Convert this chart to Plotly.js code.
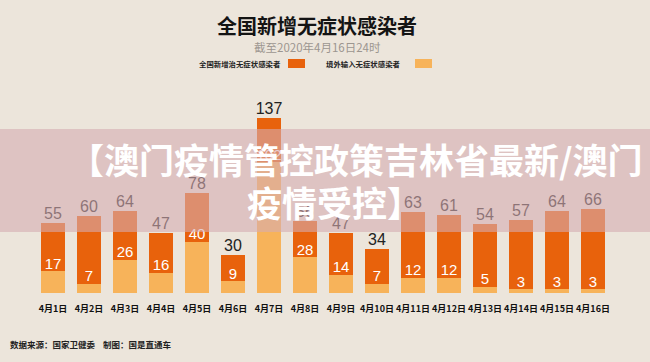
<!DOCTYPE html>
<html>
<head>
<meta charset="utf-8">
<script src="https://cdn.plot.ly/plotly-3.0.1.min.js"></script>
<style>html,body{margin:0;padding:0;background:#ece5db;}#chart{width:650px;height:362px;}</style>
</head>
<body>
<div id="chart"></div>
<script>
// ---- data ----
const dates = ["4月1日","4月2日","4月3日","4月4日","4月5日","4月6日","4月7日","4月8日",
               "4月9日","4月10日","4月11日","4月12日","4月13日","4月14日","4月15日","4月16日"];
const totalNew = [55, 60, 64, 47, 78, 30, 137, 56, 47, 34, 63, 61, 54, 57, 64, 66];
const imported = [17, 7, 26, 16, 40, 9, 102, 28, 14, 7, 12, 12, 5, 3, 3, 3];
const seriesNames = ["全国新增治无症状感染者", "境外输入无症状感染者"];

const domestic = totalNew.map((t, i) => t - imported[i]);

const DARK = "#e8620c", LIGHT = "#f7b35a", BG = "#ece5db";
const L = 23, R = 27, T = 101, B = 69, W = 650 - L - R, H = 362 - T - B;
const px = x => (x - L) / W;
const py = y => (362 - B - y) / H;

const cjk = '"Noto Sans CJK SC", "Noto Sans", sans-serif';
const num = '"Liberation Sans", Arial, sans-serif';

const traces = [
  { type: "bar", x: dates, y: imported, name: seriesNames[1], marker: { color: LIGHT },
    hoverinfo: "skip" },
  { type: "bar", x: dates, y: domestic, name: seriesNames[0], marker: { color: DARK },
    hoverinfo: "skip" },
  // imported-count labels, drawn on an overlay axis shifted a few pixels up
  { type: "scatter", mode: "text", x: dates, y: imported, yaxis: "y2", text: imported.map(String),
    textposition: "middle center", textfont: { family: num, size: 15, color: "#ffffff" },
    hoverinfo: "skip", cliponaxis: false },
  { type: "scatter", mode: "text", x: dates, y: totalNew, text: totalNew.map(String),
    textposition: "top center", textfont: { family: num, size: 16, color: "#222222" },
    hoverinfo: "skip", cliponaxis: false }
];

const annotations = [
  { text: "<b>全国新增无症状感染者</b>", x: px(317), y: py(25), font: { family: cjk, size: 20, color: "#141414" } },
  { text: "截至2020年4月16日24时", x: px(317), y: py(47), font: { family: cjk, size: 11.5, color: "#9c9690" } },
  { text: "<b>" + seriesNames[0] + "</b>", x: px(283), y: py(63.5), xanchor: "right", font: { family: cjk, size: 7.4, color: "#222" } },
  { text: "<b>" + seriesNames[1] + "</b>", x: px(403), y: py(63.5), xanchor: "right", font: { family: cjk, size: 7.4, color: "#222" } },
  { text: "<b>数据来源：国家卫健委</b>", x: px(8), y: py(344), xanchor: "left", font: { family: cjk, size: 8.5, color: "#222" } },
  { text: "<b>制图：国是直通车</b>", x: px(101), y: py(344), xanchor: "left", font: { family: cjk, size: 8.5, color: "#222" } },
  { text: "<b>【澳门疫情管控政策吉林省最新/澳门</b>", x: px(356), y: py(158), font: { family: cjk, size: 35, color: "#ffffff" } },
  { text: "<b>疫情受控】</b>", x: px(334), y: py(201), font: { family: cjk, size: 35, color: "#ffffff" } }
].map(a => Object.assign({ xref: "paper", yref: "paper", showarrow: false, xanchor: "center", yanchor: "middle" }, a));

const shapes = [
  { type: "rect", xref: "paper", yref: "paper", x0: px(288), x1: px(305), y0: py(59), y1: py(68),
    fillcolor: DARK, line: { width: 0 } },
  { type: "rect", xref: "paper", yref: "paper", x0: px(415), x1: px(432), y0: py(59), y1: py(68),
    fillcolor: LIGHT, line: { width: 0 } },
  { type: "rect", xref: "paper", yref: "paper", x0: px(0), x1: px(650), y0: py(232), y1: py(129),
    fillcolor: "rgba(214,172,176,0.6)", line: { width: 0 }, layer: "above" }
];

const layout = {
  width: 650, height: 362,
  margin: { l: L, r: R, t: T, b: B },
  paper_bgcolor: BG, plot_bgcolor: BG,
  barmode: "stack", bargap: 0.33,
  showlegend: false,
  xaxis: { type: "category", showgrid: false, zeroline: false, showline: false, ticks: "",
           tickangle: 0, automargin: false, ticklabelstandoff: 9,
           tickfont: { family: cjk, size: 9, color: "#111", weight: "bold" }, fixedrange: true },
  yaxis: { range: [0, 150], visible: false, fixedrange: true },
  yaxis2: { range: [-5, 145], overlaying: "y", visible: false, fixedrange: true },
  annotations, shapes
};

Plotly.newPlot("chart", traces, layout, { displayModeBar: false, staticPlot: true });
</script>
</body>
</html>
